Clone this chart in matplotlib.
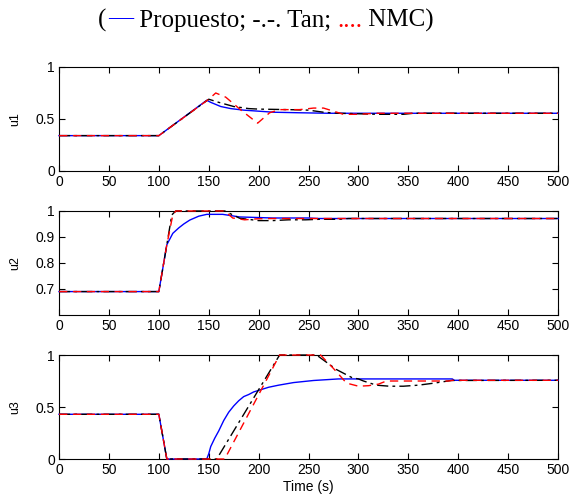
import matplotlib
matplotlib.use("Agg")
import matplotlib.pyplot as plt

plt.rcParams['font.family'] = ['Liberation Sans', 'DejaVu Sans']

# ---- u1 ----
t_u1_blue = [0, 100, 148, 152, 162, 172, 185, 200, 215, 240, 270, 500]
u1_blue = [0.34, 0.34, 0.68, 0.66, 0.62, 0.60, 0.585, 0.575, 0.565, 0.56, 0.555, 0.555]
t_u1_tan = [0, 100, 150, 160, 175, 190, 200, 230, 250, 265, 280, 300, 320, 345, 355, 500]
u1_tan = [0.34, 0.34, 0.69, 0.66, 0.62, 0.60, 0.595, 0.59, 0.585, 0.565, 0.555, 0.55, 0.545, 0.545, 0.555, 0.555]
t_u1_nmc = [0, 100, 150, 157, 167, 183, 199, 211, 221, 241, 255, 265, 275, 285, 300, 318, 500]
u1_nmc = [0.34, 0.34, 0.69, 0.75, 0.71, 0.58, 0.46, 0.56, 0.59, 0.59, 0.605, 0.605, 0.575, 0.545, 0.545, 0.555, 0.555]

# ---- u2 ----
t_u2_blue = [0, 100, 104, 108, 114, 120, 125, 131, 140, 148, 164, 181, 214, 250, 260, 500]
u2_blue = [0.69, 0.69, 0.78, 0.87, 0.914, 0.935, 0.95, 0.965, 0.98, 0.987, 0.987, 0.977, 0.973, 0.973, 0.971, 0.971]
t_u2_tan = [0, 100, 108, 113, 117, 166, 181, 200, 214, 230, 247, 261, 280, 290, 500]
u2_tan = [0.69, 0.69, 0.87, 0.985, 1.0, 1.0, 0.972, 0.963, 0.963, 0.966, 0.966, 0.968, 0.968, 0.971, 0.971]
t_u2_nmc = [0, 100, 108, 114, 117, 166, 174, 186, 199, 214, 500]
u2_nmc = [0.69, 0.69, 0.87, 0.985, 1.0, 1.0, 0.973, 0.966, 0.97, 0.971, 0.971]

# ---- u3 ----
t_u3_blue = [0, 100, 108, 148, 150, 152, 156, 160, 165, 170, 175, 180, 185, 190, 195, 200, 210,
             220, 235, 255, 280, 394, 396, 500]
u3_blue = [0.43, 0.43, 0.0, 0.0, 0.05, 0.12, 0.2, 0.27, 0.37, 0.45, 0.51, 0.56, 0.6, 0.62, 0.645,
           0.66, 0.69, 0.71, 0.735, 0.755, 0.77, 0.77, 0.757, 0.757]
t_u3_tan = [0, 100, 108, 158, 221, 258, 278, 294, 300, 305, 318, 331, 345, 360, 376, 393, 500]
u3_tan = [0.43, 0.43, 0.0, 0.0, 1.0, 1.0, 0.86, 0.78, 0.77, 0.75, 0.71, 0.70, 0.70, 0.71, 0.73, 0.755, 0.757]
t_u3_nmc = [0, 100, 108, 166, 221, 262, 275, 288, 300, 310, 320, 328, 335, 390, 395, 500]
u3_nmc = [0.43, 0.43, 0.0, 0.0, 1.0, 1.0, 0.87, 0.73, 0.70, 0.705, 0.72, 0.75, 0.75, 0.75, 0.757, 0.757]

ylabels = ["u1", "u2", "u3"]
ylims = [(0, 1), (0.6, 1), (0, 1)]
yticks = [[0, 0.5, 1], [0.7, 0.8, 0.9, 1], [0, 0.5, 1]]
yticklabels = [["0", "0.5", "1"], ["0.7", "0.8", "0.9", "1"], ["0", "0.5", "1"]]
xticks = [0, 50, 100, 150, 200, 250, 300, 350, 400, 450, 500]

series = [
    (t_u1_blue, u1_blue, t_u1_tan, u1_tan, t_u1_nmc, u1_nmc),
    (t_u2_blue, u2_blue, t_u2_tan, u2_tan, t_u2_nmc, u2_nmc),
    (t_u3_blue, u3_blue, t_u3_tan, u3_tan, t_u3_nmc, u3_nmc),
]

fig = plt.figure(figsize=(5.73, 5.01), dpi=100)
bottoms = [0.6587, 0.3713, 0.0838]

for i, (tb, yb, tt, yt, tn, yn) in enumerate(series):
    ax = fig.add_axes([0.103, bottoms[i], 0.871, 0.2076])
    # lines sit on top of the frame, like the original (values touch the limits)
    ax.plot(tb, yb, color='blue', lw=1.0, clip_on=False, zorder=3)
    ax.plot(tt, yt, color='black', lw=1.0, dashes=(8, 3, 2, 3), clip_on=False, zorder=3)
    ax.plot(tn, yn, color='red', lw=1.0, dashes=(6, 4), clip_on=False, zorder=3)
    ax.set_xlim(0, 500)
    ax.set_ylim(*ylims[i])
    ax.set_xticks(xticks)
    ax.set_xticklabels([str(x) for x in xticks])
    ax.set_yticks(yticks[i])
    ax.set_yticklabels(yticklabels[i])
    ax.tick_params(direction='in', length=4, width=0.8, top=True, right=True,
                   labelsize=10, pad=3)
    ax.set_ylabel(ylabels[i], fontsize=9, labelpad=10)
    for s in ax.spines.values():
        s.set_linewidth(0.8)
    if i == 2:
        ax.set_xlabel("Time (s)", fontsize=10, labelpad=2)

# title made of pieces: "(— Propuesto; -.-. Tan; .... NMC)"
tfont = dict(family='Liberation Serif', fontsize=18)
p1 = fig.text(0.171, 0.946, "(", va='baseline', **tfont)
p2 = plt.annotate("\u2014", xy=(1, 0), xycoords=p1, xytext=(1, 3), textcoords='offset points',
                  va='bottom', color='blue', annotation_clip=False, **tfont)
p3 = plt.annotate(" Propuesto; -.-. Tan; ", xy=(1, 0), xycoords=p2, xytext=(0, -3),
                  textcoords='offset points', va='bottom', color='black', **tfont)
p4 = plt.annotate("....", xy=(1, 0), xycoords=p3, va='bottom', color='red', **tfont)
p5 = plt.annotate(" NMC)", xy=(1, 0), xycoords=p4, va='bottom', color='black', **tfont)

fig.savefig("out.png", dpi=100)
